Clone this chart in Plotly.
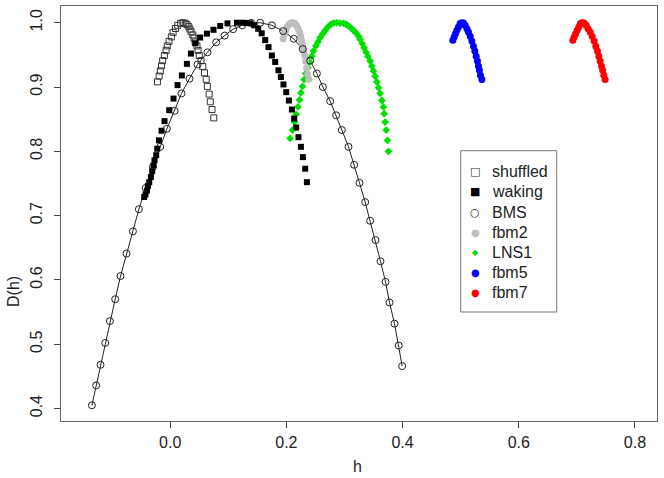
import plotly.graph_objects as go

# ---- data ----
shuffled_h = [-0.022, -0.019, -0.017, -0.015, -0.013, -0.010, -0.007, -0.005, -0.002, 0.002,
              0.005, 0.009, 0.013, 0.018, 0.022, 0.026, 0.029, 0.032, 0.034, 0.036,
              0.039, 0.041, 0.043, 0.046, 0.048, 0.050, 0.053, 0.056, 0.059, 0.062,
              0.064, 0.067, 0.069, 0.072, 0.075]
shuffled_D = [0.908, 0.917, 0.925, 0.933, 0.941, 0.949, 0.957, 0.964, 0.971, 0.978,
              0.985, 0.991, 0.996, 0.999, 1.000, 0.999, 0.997, 0.994, 0.990, 0.986,
              0.981, 0.976, 0.970, 0.964, 0.957, 0.949, 0.941, 0.932, 0.922, 0.912,
              0.901, 0.889, 0.877, 0.865, 0.852]

waking_h = [-0.0448, -0.0425, -0.0401, -0.0384, -0.0361, -0.0332, -0.0310, -0.0287, -0.0270, -0.0241,
            -0.0224, -0.0194, -0.0150, -0.0098, -0.0017, 0.0057, 0.0126, 0.0201, 0.0287, 0.0356,
            0.0430, 0.0516, 0.0632, 0.0745, 0.0861, 0.0986, 0.1148, 0.1250, 0.1320, 0.1377,
            0.1446, 0.1515, 0.1575, 0.1635, 0.1692, 0.1750, 0.1807, 0.1864, 0.1905, 0.1950,
            0.1997, 0.2043, 0.2095, 0.2134, 0.2169, 0.2208, 0.2250, 0.2284, 0.2324, 0.2353]
waking_D = [0.729, 0.733, 0.739, 0.746, 0.752, 0.760, 0.769, 0.778, 0.786, 0.794,
            0.804, 0.817, 0.832, 0.847, 0.864, 0.882, 0.903, 0.918, 0.936, 0.952,
            0.968, 0.977, 0.983, 0.989, 0.995, 0.999, 1.000, 1.000, 0.9995, 0.999,
            0.996, 0.9905, 0.9835, 0.973, 0.962, 0.949, 0.939, 0.926, 0.9155, 0.904,
            0.892, 0.879, 0.865, 0.851, 0.837, 0.822, 0.807, 0.791, 0.773, 0.752]

bms_h = [-0.1348, -0.1274, -0.1200, -0.1119, -0.1038, -0.0947, -0.0855, -0.0752, -0.0642, -0.0539,
         -0.0422, -0.0298, -0.0172, -0.0057, 0.0077, 0.0194, 0.0332, 0.0470, 0.0642, 0.0792,
         0.0938, 0.1084, 0.1239, 0.1394, 0.1549, 0.1750, 0.1945, 0.2126, 0.2281, 0.2410,
         0.2525, 0.2628, 0.2754, 0.2857, 0.2955, 0.3069, 0.3167, 0.3258, 0.3356, 0.3442,
         0.3534, 0.3620, 0.3706, 0.3775, 0.3861, 0.3933, 0.3993]
bms_D = [0.405, 0.436, 0.468, 0.502, 0.536, 0.570, 0.606, 0.641, 0.6755, 0.710,
         0.743, 0.776, 0.807, 0.835, 0.863, 0.890, 0.913, 0.935, 0.954, 0.9695,
         0.980, 0.990, 0.996, 0.9998, 1.000, 0.996, 0.987, 0.975, 0.959, 0.941,
         0.921, 0.900, 0.878, 0.856, 0.833, 0.807, 0.779, 0.751, 0.721, 0.692,
         0.662, 0.629, 0.597, 0.565, 0.532, 0.498, 0.466]

fbm2_h = [0.1945, 0.1962, 0.1988, 0.2014, 0.2048, 0.2083, 0.2117, 0.2151, 0.2177, 0.2203,
          0.2229, 0.2246, 0.2263, 0.2281, 0.2298, 0.2315, 0.2332, 0.2349, 0.2367, 0.2384]
fbm2_D = [0.975, 0.982, 0.988, 0.9936, 0.9975, 0.9998, 1.000, 0.9983, 0.995, 0.9905,
          0.985, 0.979, 0.972, 0.965, 0.957, 0.949, 0.940, 0.929, 0.920, 0.912]

lns1_h = [0.2065, 0.2105, 0.2140, 0.2169, 0.2198, 0.2226, 0.2250, 0.2277, 0.2306, 0.2335,
          0.2370, 0.2398, 0.2438, 0.2466, 0.2508, 0.2542, 0.2582, 0.2628, 0.2668, 0.2714,
          0.2766, 0.2811, 0.2869, 0.2926, 0.2983, 0.3029, 0.3069, 0.3110, 0.3155, 0.3201,
          0.3241, 0.3270, 0.3305, 0.3339, 0.3373, 0.3403, 0.3442, 0.3471, 0.3499, 0.3528,
          0.3558, 0.3585, 0.3614, 0.3644, 0.3671, 0.3683, 0.3701, 0.3718, 0.3740, 0.3757]
lns1_D = [0.820, 0.833, 0.8455, 0.8575, 0.869, 0.880, 0.891, 0.901, 0.9115, 0.921,
          0.930, 0.939, 0.948, 0.956, 0.964, 0.970, 0.977, 0.983, 0.988, 0.993,
          0.9975, 0.9995, 1.000, 0.9995, 0.999, 0.9975, 0.995, 0.992, 0.988, 0.984,
          0.979, 0.974, 0.9675, 0.961, 0.954, 0.948, 0.9405, 0.9326, 0.925, 0.9166,
          0.908, 0.899, 0.890, 0.879, 0.869, 0.8586, 0.8455, 0.833, 0.817, 0.800]

fbm5_h = [0.4866, 0.4888, 0.4911, 0.4935, 0.4962, 0.4991, 0.5021, 0.5048, 0.5077, 0.5107,
          0.5134, 0.5164, 0.5192, 0.5220, 0.5244, 0.5267, 0.5289, 0.5306, 0.5323, 0.5341, 0.5365]
fbm5_D = [0.9726, 0.9777, 0.983, 0.9881, 0.9933, 0.9986, 1.000, 0.9995, 0.9959, 0.9908,
          0.9855, 0.9788, 0.9715, 0.9633, 0.956, 0.9477, 0.9404, 0.9326, 0.9259, 0.9182, 0.9115]

fbm7_h = [0.6931, 0.6954, 0.6979, 0.7005, 0.7034, 0.7062, 0.7091, 0.7126, 0.7160, 0.7194,
          0.7229, 0.7263, 0.7298, 0.7327, 0.7355, 0.7379, 0.7401, 0.7424, 0.7444, 0.7465, 0.7487]
fbm7_D = [0.9726, 0.9777, 0.983, 0.9881, 0.9933, 0.9986, 1.000, 0.9995, 0.9959, 0.9908,
          0.9855, 0.9788, 0.9715, 0.9633, 0.956, 0.9477, 0.9404, 0.9326, 0.9259, 0.9182, 0.9115]

x_ticks = [0.0, 0.2, 0.4, 0.6, 0.8]
x_tick_labels = ["0.0", "0.2", "0.4", "0.6", "0.8"]
y_ticks = [0.4, 0.5, 0.6, 0.7, 0.8, 0.9, 1.0]
y_tick_labels = ["0.4", "0.5", "0.6", "0.7", "0.8", "0.9", "1.0"]

legend_names = ["shuffled", "waking", "BMS", "fbm2", "LNS1", "fbm5", "fbm7"]

FONT = "Liberation Sans, Arial, sans-serif"
W, H = 664, 478
ML, MR, MT, MB = 61, 7, 6, 57
PW, PH = W - ML - MR, H - MT - MB


def px_x(p):
    return (p - ML) / PW


def px_y(p):
    return (H - MB - p) / PH


series_style = {
    "shuffled": dict(symbol="square-open", size=6, color="#333", lw=1),
    "waking": dict(symbol="square", size=6, color="#000", lw=0),
    "BMS": dict(symbol="circle-open", size=7, color="#222", lw=1),
    "fbm2": dict(symbol="circle", size=7, color="#bebebe", lw=0),
    "LNS1": dict(symbol="diamond", size=6, color="#00e000", lw=0),
    "fbm5": dict(symbol="circle", size=7, color="#0000ff", lw=0),
    "fbm7": dict(symbol="circle", size=7, color="#ff0000", lw=0),
}
series_data = {
    "shuffled": (shuffled_h, shuffled_D),
    "waking": (waking_h, waking_D),
    "BMS": (bms_h, bms_D),
    "fbm2": (fbm2_h, fbm2_D),
    "LNS1": (lns1_h, lns1_D),
    "fbm5": (fbm5_h, fbm5_D),
    "fbm7": (fbm7_h, fbm7_D),
}

fig = go.Figure()
fig.add_trace(go.Scatter(x=bms_h, y=bms_D, mode="lines", line=dict(color="#222", width=1),
                         showlegend=False, hoverinfo="skip"))
for name in ["LNS1", "fbm2", "shuffled", "BMS", "waking", "fbm5", "fbm7"]:
    st = series_style[name]
    hx, dy = series_data[name]
    fig.add_trace(go.Scatter(
        x=hx, y=dy, mode="markers", name=name, showlegend=False,
        marker=dict(symbol=st["symbol"], size=st["size"], color=st["color"],
                    line=dict(width=st["lw"], color=st["color"]))))

# ---- legend drawn as a box with glyphs + labels (R-style spacing) ----
legend_glyph = {"shuffled": "□", "waking": "■", "BMS": "○", "fbm2": "●",
                "LNS1": "◆", "fbm5": "●", "fbm7": "●"}
glyph_size = {"shuffled": 11, "waking": 11, "BMS": 11, "fbm2": 10,
              "LNS1": 8, "fbm5": 10, "fbm7": 10}
annotations = []
shapes = [dict(type="rect", xref="paper", yref="paper",
               x0=px_x(460.7), x1=px_x(556.7), y0=px_y(312), y1=px_y(150.7),
               line=dict(color="#777", width=1), fillcolor="white", layer="above")]
for i, name in enumerate(legend_names):
    yc = 171.7 + 20.15 * i
    annotations.append(dict(text=legend_glyph[name], xref="paper", yref="paper",
                            x=px_x(475), y=px_y(yc), xanchor="center", yanchor="middle",
                            showarrow=False,
                            font=dict(family="DejaVu Sans", size=glyph_size[name],
                                      color=series_style[name]["color"])))
    annotations.append(dict(text=name, xref="paper", yref="paper",
                            x=px_x(490), y=px_y(yc), xanchor="left", yanchor="middle",
                            showarrow=False, font=dict(family=FONT, size=16, color="#222")))

annotations.append(dict(text="h", xref="paper", yref="paper", x=px_x(357), y=px_y(466),
                        xanchor="center", yanchor="middle", showarrow=False,
                        font=dict(family=FONT, size=16, color="#222")))
annotations.append(dict(text="D(h)", xref="paper", yref="paper", x=px_x(13), y=px_y(292),
                        xanchor="center", yanchor="middle", textangle=-90, showarrow=False,
                        font=dict(family=FONT, size=16, color="#222")))

axis_common = dict(showgrid=False, zeroline=False, showline=True, mirror=True,
                   linecolor="#666", linewidth=1, ticks="outside", ticklen=6,
                   tickcolor="#444", tickwidth=1, automargin=False,
                   tickfont=dict(family=FONT, size=16, color="#222"))

fig.update_layout(
    width=W, height=H,
    margin=dict(l=ML, r=MR, t=MT, b=MB, autoexpand=False),
    paper_bgcolor="white", plot_bgcolor="white",
    font=dict(family=FONT, size=16, color="#222"),
    showlegend=False,
    xaxis=dict(range=[-0.188, 0.838], tickvals=x_ticks, ticktext=x_tick_labels,
               ticklabelstandoff=1, **axis_common),
    yaxis=dict(range=[0.3806, 1.026], tickvals=y_ticks, ticktext=y_tick_labels,
               tickangle=-90, ticklabelstandoff=6, **axis_common),
    shapes=shapes,
    annotations=annotations,
)

fig.write_html("out.html", config={"displayModeBar": False},
               post_script="document.body.style.margin='0px';"
                           "document.body.style.overflow='hidden';")
